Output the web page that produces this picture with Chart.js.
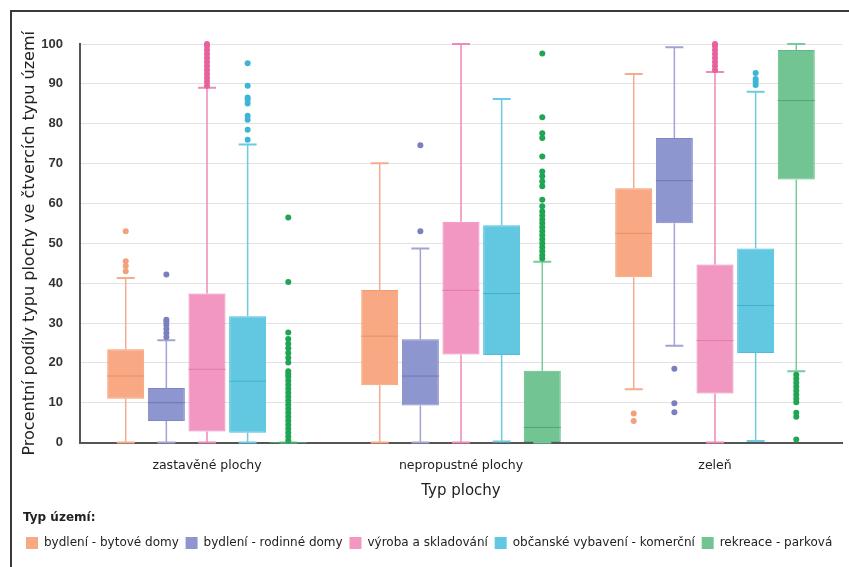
<!DOCTYPE html>
<html>
<head>
<meta charset="utf-8">
<script src="https://cdn.jsdelivr.net/npm/chart.js@4"></script>
<style>
  html, body { margin: 0; padding: 0; background: #fff; }
  #wrap { position: relative; width: 849px; height: 567px; overflow: hidden; }
  #frame { position: absolute; left: 10px; top: 10px; right: -5px; bottom: -5px;
           border-top: 2px solid #3a3a3a; border-left: 2px solid #3a3a3a; }
  canvas { position: absolute; left: 0; top: 0; }
</style>
</head>
<body>
<div id="wrap">
  <div id="frame"></div>
  <canvas id="boxChart" width="849" height="567"></canvas>
</div>
<script>
// KATEGORIE
const categories = ["zastavěné plochy", "nepropustné plochy", "zeleň"];
const yTicks = [0, 10, 20, 30, 40, 50, 60, 70, 80, 90, 100];

// [dolní vous, Q1, medián, Q3, horní vous] pro každou kategorii
const bytoveDomy = [[0, 11, 16.7, 23.4, 41.3], [0, 14.4, 26.7, 38.3, 70.1], [13.4, 41.5, 52.5, 63.8, 92.5]];
const rodinneDomy = [[0, 5.4, 10, 13.7, 25.7], [0, 9.3, 16.7, 25.9, 48.7], [24.3, 55, 65.7, 76.4, 99.2]];
const vyroba = [[0, 2.8, 18.4, 37.4, 89], [0, 22.1, 38.2, 55.4, 100], [0, 12.3, 25.6, 44.7, 93]];
const vybaveni = [[0, 2.5, 15.4, 31.7, 74.8], [0.3, 22, 37.4, 54.5, 86.2], [0.4, 22.5, 34.4, 48.7, 88]];
const rekreace = [[0, 0, 0, 0, 0], [0, 0, 3.8, 18, 45.4], [17.9, 66, 85.8, 98.5, 100]];

// odlehlé hodnoty
const bytoveDomyOut = [[43, 44.3, 45.5, 53], [], [5.4, 7.3]];
const rodinneDomyOut = [[26.5, 27.5, 28.5, 29.5, 30.3, 30.8, 42.2], [53, 74.6], [7.6, 9.9, 18.5]];
const vyrobaOut = [
  [89.5, 90.5, 91.5, 92.5, 93.5, 94.5, 95.5, 96.5, 97.5, 98.5, 99.5, 100],
  [],
  [93.5, 94.5, 95.5, 96.5, 97.5, 98.5, 99.5, 100],
];
const vybaveniOut = [[76, 78.5, 81, 82, 85.1, 86, 86.6, 89.5, 95.2], [], [89.7, 90.5, 91.2, 92.7]];
const rekreaceOut = [
  [0.5, 1.5, 2.5, 3.5, 4.5, 5.5, 6.5, 7.5, 8.5, 9.5, 10.5, 11.5, 12.5, 13.5, 14.5, 15.5, 16.5, 17.2, 17.9,
   20.1, 21.3, 22.5, 23.7, 24.8, 26, 27.6, 40.3, 56.5],
  [46.2, 47, 48, 49, 50, 51, 52, 53, 54, 55, 56, 57, 58, 59.3, 60.9, 64.3, 65.5, 66.8, 68, 71.8, 76.4, 77.6, 81.6, 97.6],
  [0.8, 6.5, 7.5, 10.1, 11, 12, 13, 14, 15, 16, 17],
];

const seriesNames = [
  "bydlení - bytové domy",
  "bydlení - rodinné domy",
  "výroba a skladování",
  "občanské vybavení - komerční",
  "rekreace - parková",
];
const seriesStats = [bytoveDomy, rodinneDomy, vyroba, vybaveni, rekreace];
const seriesOutliers = [bytoveDomyOut, rodinneDomyOut, vyrobaOut, vybaveniOut, rekreaceOut];

// barvy: výplň, okraj, vousy, medián, odlehlé body
const fillColors = ["#f8a882", "#8e96d0", "#f197c1", "#62c7e1", "#72c593"];
const borderColors = ["#f29a72", "#7f87c6", "#ec86b5", "#4fbedb", "#5fb984"];
const whiskerColors = ["#f6ab8c", "#a0a3d3", "#ee8ab6", "#6ccae2", "#78ca98"];
const medianColors = ["#e9906a", "#6f76b8", "#e27aab", "#3fb0d0", "#4aa872"];
const outlierColors = ["#f4a07c", "#7b7fc0", "#e8609c", "#3db6d6", "#1fa553"];

const boxPlotPlugin = {
  id: "boxPlotPlugin",
  afterDatasetsDraw(chart) {
    const ctx = chart.ctx;
    const y = chart.scales.y;
    chart.data.datasets.forEach((ds, d) => {
      const meta = chart.getDatasetMeta(d);
      if (meta.hidden) return;
      meta.data.forEach((bar, i) => {
        const st = seriesStats[d][i];
        const x = bar.x;
        const half = bar.width / 2;
        const cap = 9;
        ctx.save();
        // vousy
        ctx.strokeStyle = whiskerColors[d];
        ctx.lineWidth = 1.5;
        ctx.beginPath();
        ctx.moveTo(x, y.getPixelForValue(st[3]));
        ctx.lineTo(x, y.getPixelForValue(st[4]));
        ctx.moveTo(x, y.getPixelForValue(st[1]));
        ctx.lineTo(x, y.getPixelForValue(st[0]));
        ctx.stroke();
        ctx.lineWidth = 2;
        ctx.beginPath();
        ctx.moveTo(x - cap, y.getPixelForValue(st[4]));
        ctx.lineTo(x + cap, y.getPixelForValue(st[4]));
        ctx.moveTo(x - cap, y.getPixelForValue(st[0]));
        ctx.lineTo(x + cap, y.getPixelForValue(st[0]));
        ctx.stroke();
        // medián
        ctx.strokeStyle = medianColors[d];
        ctx.lineWidth = 1;
        ctx.beginPath();
        ctx.moveTo(x - half, y.getPixelForValue(st[2]));
        ctx.lineTo(x + half, y.getPixelForValue(st[2]));
        ctx.stroke();
        // odlehlé hodnoty
        ctx.fillStyle = outlierColors[d];
        seriesOutliers[d][i].forEach((v) => {
          ctx.beginPath();
          ctx.arc(x, y.getPixelForValue(v), 3, 0, Math.PI * 2);
          ctx.fill();
        });
        ctx.restore();
      });
    });
  },
};

const boxCtx = document.getElementById("boxChart");

new Chart(boxCtx, {
  type: "bar",

  data: {
    labels: categories,

    datasets: seriesNames.map((name, d) => ({
      label: name,
      data: seriesStats[d].map((s) => [s[1], s[3]]),
      backgroundColor: fillColors[d],
      borderColor: borderColors[d],
      borderWidth: 1,
      borderSkipped: false,
      categoryPercentage: 0.8,
      barPercentage: 0.91,
    })),
  },

  options: {
    responsive: false,
    animation: false,

    layout: {
      padding: { left: 23, top: 44, right: 7, bottom: 8 },
    },

    plugins: {
      tooltip: { enabled: false },

      legend: {
        position: "bottom",
        align: "start",
        title: {
          display: true,
          text: "Typ území:",
          position: "start",
          color: "#222",
          font: { family: "DejaVu Sans", size: 12, weight: "bold" },
          padding: { top: 6, bottom: 8 },
        },
        labels: {
          boxWidth: 12,
          boxHeight: 12,
          padding: 3,
          color: "#222",
          font: { family: "DejaVu Sans", size: 12 },
          generateLabels: (chart) =>
            chart.data.datasets.map((ds, d) => ({
              text: ds.label + " ",
              fillStyle: fillColors[d],
              strokeStyle: fillColors[d],
              lineWidth: 0,
              hidden: !chart.isDatasetVisible(d),
              datasetIndex: d,
            })),
        },
      },
    },

    scales: {
      x: {
        afterFit: (scale) => {
          scale.height = 63;
        },
        grid: { display: false, drawTicks: false },
        border: { display: true, color: "#555", width: 2 },
        ticks: {
          color: "#222",
          padding: 16,
          font: { family: "DejaVu Sans", size: 12.5 },
        },
        title: {
          display: true,
          text: "Typ plochy",
          color: "#222",
          font: { family: "DejaVu Sans", size: 15 },
          padding: { top: 4, bottom: 5 },
        },
      },

      y: {
        min: 0,
        max: 100,
        afterBuildTicks: (scale) => {
          scale.ticks = yTicks.map((v) => ({ value: v }));
        },
        afterFit: (scale) => {
          scale.width = 57;
        },
        grid: { color: "#e2e2e2", lineWidth: 1, drawTicks: false },
        border: { display: true, color: "#555", width: 2 },
        ticks: {
          color: "#333",
          padding: 17,
          font: { family: "Liberation Sans", size: 13, weight: "bold" },
        },
        title: {
          display: true,
          text: "Procentní podíly typu plochy ve čtvercích typu území",
          color: "#222",
          font: { family: "DejaVu Sans", size: 16, lineHeight: 1 },
          padding: { top: -1, bottom: 0 },
        },
      },
    },
  },

  plugins: [boxPlotPlugin],
});
</script>
</body>
</html>
